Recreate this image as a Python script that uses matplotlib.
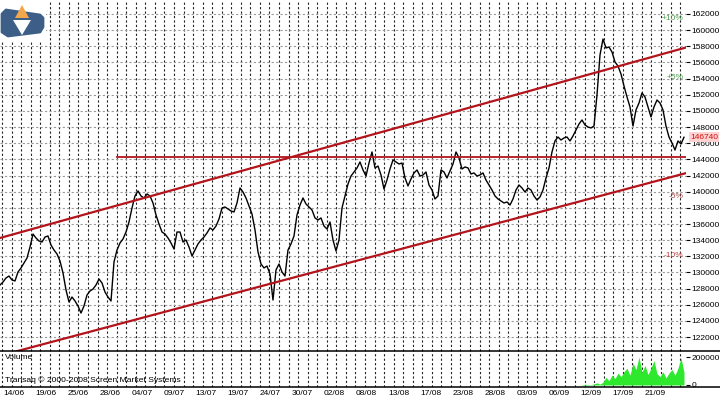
import numpy as np
import matplotlib.pyplot as plt
from matplotlib.patches import Polygon
from matplotlib.lines import Line2D

# price path (evenly spaced samples)
price = [
    128450, 128820, 129320, 129560, 129070, 128950, 130060, 130560, 131170, 131790,
    133150, 134760, 134270, 133900, 133770, 134390, 134520, 133400, 132780, 132290,
    131420, 129940, 127830, 126350, 126960, 126470, 125850, 124980, 125850, 127210,
    127710, 127950, 128450, 129190, 128700, 127580, 126960, 126470, 131300, 132780,
    133650, 134150, 135010, 136250, 137980, 139470, 140090, 139470, 139220, 139720,
    139470, 138600, 137120, 136000, 135010, 134760, 134270, 133650, 132910, 135010,
    135010, 133770, 134020, 133150, 132040, 132780, 133530, 134020, 134390, 134890,
    135510, 135260, 135750, 136620, 137980, 138110, 137860, 137610, 137490, 138600,
    140460, 139960, 139220, 138230, 137240, 135260, 132540, 131050, 130560, 130800,
    129810, 126590, 130310, 131050, 130060, 129560, 132780, 133530, 134520, 137120,
    138350, 139220, 138480, 138110, 137740, 136750, 136500, 136750, 135750, 135380,
    136250, 134020, 132660, 134020, 137980, 139470, 140950, 141940, 142440, 142940,
    143680, 142690, 141940, 143550, 144920, 142940, 143180, 142070, 140330, 141450,
    142810, 143930, 143680, 143430, 143550, 141700, 140710, 141570, 142320, 142690,
    141940, 142070, 142440, 140830, 140210, 139100, 139470, 142690, 142440, 141700,
    142560, 143430, 144920, 144180, 142810, 143060, 142940, 142190, 142320, 141940,
    142070, 142320, 141450, 140830, 140210, 139470, 139100, 138850, 138600, 138730,
    138350, 139100, 140210, 140830, 140460, 139960, 140460, 140210, 139470, 138970,
    139350, 140210, 141700, 142940, 144920, 146280, 146770, 146400, 146650, 146770,
    146280, 146900, 147640, 148380, 148880, 148260, 148010, 147890, 148130, 151970,
    156920, 158900, 157790, 157910, 157300, 156060, 155560, 154570, 153090, 151730,
    150490, 148130, 150120, 150980, 152220, 151730, 150490, 149250, 150490, 151350,
    150980, 150120, 148130, 146770, 146030, 145160, 146280, 145910, 146740,
]

# volume only exists for the last part of the period
vol_start = 194
volume = [
    3000, 5000, 4000, 2000, 8000, 15000, 6000, 20000, 55000, 30000,
    70000, 45000, 85000, 60000, 95000, 120000, 70000, 155000, 110000, 200000,
    90000, 140000, 75000, 120000, 175000, 80000, 60000, 95000, 50000, 85000,
    110000, 70000, 120000, 195000, 90000,
]

date_labels = ["14/06", "19/06", "25/06", "28/06", "04/07", "09/07", "13/07",
               "19/07", "24/07", "30/07", "02/08", "08/08", "13/08", "17/08",
               "23/08", "28/08", "03/09", "06/09", "12/09", "17/09", "21/09"]

upper_channel = [134270, 157850]
lower_channel = [119700, 142300]
support_level = 144300
support_start = 39
last_price = 146740
pct_levels = [10, 5, -5, -10]
pct_colors = ["#4f9a4f", "#4f9a4f", "#a04a4a", "#c04444"]

plt.rcParams['font.family'] = ['Liberation Sans', 'DejaVu Sans']

W, H = 720, 399
fig = plt.figure(figsize=(7.2, 3.99), dpi=100)
ax = fig.add_axes([0, 1 - 351 / H, 686 / W, 351 / H])
axv = fig.add_axes([0, 1 - 387 / H, 686 / W, 36 / H])

x = np.arange(len(price))
xmax = 228.67
day_grid = np.arange(0.7, xmax, 3.183)
red = "#b3141c"
fs = 6

# ---- price panel ----
ax.plot(x, price, color="black", lw=1.0, zorder=3)
ax.plot([0, xmax], upper_channel, color=red, lw=1.6, zorder=4)
ax.plot([0, xmax], lower_channel, color=red, lw=1.6, zorder=4)
ax.plot([support_start, xmax], [support_level] * 2, color=red, lw=1.3, zorder=4)

ax.set_xlim(0, xmax)
ax.set_ylim(120280, 163730)
ax.set_xticks([])
ax.set_xticks(day_grid, minor=True)
ax.grid(which="minor", axis="x", color="#222222", linestyle=(0, (2, 2)), lw=0.8)
ax.set_yticks(np.arange(122000, 162001, 2000))
ax.yaxis.tick_right()
ax.grid(axis="y", color="#9a9a9a", linestyle=(0, (2, 2)), lw=0.8)
ax.tick_params(axis="y", direction="out", length=3, width=0.8, pad=1, labelsize=fs)
ax.tick_params(which="minor", length=0)
for s in ax.spines.values():
    s.set_visible(False)

for p, c in zip(pct_levels, pct_colors):
    ax.text(227.8, last_price * (1 + p / 100), f"{p:+d}%", ha="right",
            va="center", fontsize=fs, color=c, zorder=5)

ax.text(1.006, last_price, str(last_price), transform=ax.get_yaxis_transform(),
        ha="left", va="center", fontsize=fs, color="#d01010", zorder=6,
        bbox=dict(boxstyle="square,pad=0.15", fc="#ffd2d2", ec="none"))

# ---- volume panel ----
vx = np.arange(vol_start, vol_start + len(volume))
axv.fill_between(vx, 0, volume, color="#2ee82e", lw=0, zorder=3)
axv.set_xlim(0, xmax)
axv.set_ylim(-14300, 242900)
axv.set_xticks(np.linspace(4.67, 218.3, len(date_labels)))
axv.set_xticklabels(date_labels)
axv.set_xticks(day_grid, minor=True)
axv.grid(which="minor", axis="x", color="#222222", linestyle=(0, (2, 2)), lw=0.8)
axv.tick_params(axis="x", which="both", length=0, pad=2, labelsize=fs)
axv.set_yticks([0, 200000])
axv.set_yticklabels(["0", "200000"])
axv.yaxis.tick_right()
axv.tick_params(axis="y", direction="out", length=3, width=0.8, pad=1, labelsize=fs)
for s in axv.spines.values():
    s.set_visible(False)
axv.text(0.007, 0.83, "Volume", transform=axv.transAxes, fontsize=fs, va="center")
axv.text(0.007, 0.19, "Transaq \u00a9 2000-2008 Screen Market Systems",
         transform=axv.transAxes, fontsize=6.1, va="center")

# panel separators
for yp in (351, 387):
    fig.add_artist(Line2D([0, 1], [1 - yp / H] * 2, transform=fig.transFigure,
                          color="black", lw=1.1))

# ---- logo ----
lg = fig.add_axes([0, 1 - 42 / H, 46 / W, 42 / H])
lg.set_xlim(0, 46)
lg.set_ylim(42, 0)
lg.set_xticks([])
lg.set_yticks([])
for s in lg.spines.values():
    s.set_visible(False)
lg.add_patch(Polygon([(2, 14), (6, 10), (40, 15), (43, 18), (43, 27), (40, 32), (8, 36), (2, 32)],
                     fc="#3d5f87", ec="#3d5f87", lw=2, joinstyle="round"))
lg.add_patch(Polygon([(22, 5), (15, 18), (29, 18)], fc="#f2a84a", ec="none"))
lg.add_patch(Polygon([(13, 20), (31, 20), (22, 35)], fc="white", ec="none"))

fig.savefig("out.png", dpi=100)
